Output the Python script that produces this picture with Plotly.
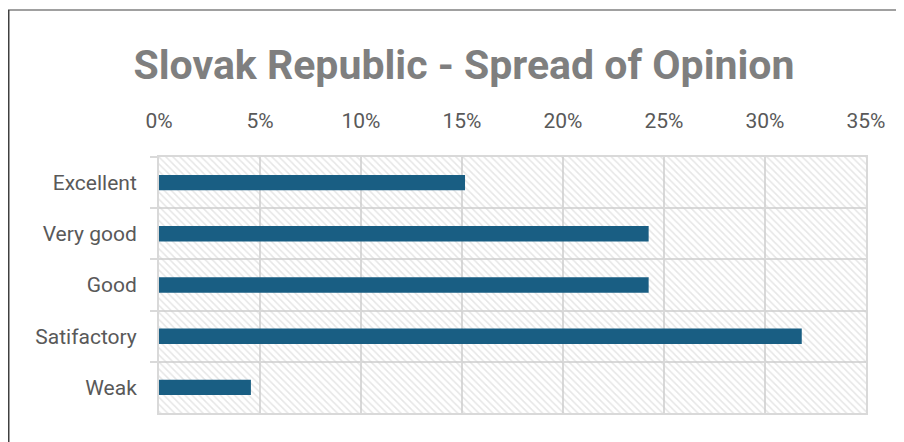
import plotly.graph_objects as go

categories = ["Excellent", "Very good", "Good", "Satifactory", "Weak"]
values = [15.15, 24.24, 24.24, 31.82, 4.55]  # percent
tick_values = [0, 5, 10, 15, 20, 25, 30, 35]
tick_labels = ["0%", "5%", "10%", "15%", "20%", "25%", "30%", "35%"]
title_text = "Slovak Republic - Spread of Opinion"

AXIS_MAX = tick_values[-1]
BAR_COLOR = "#195E83"
GRID = "#d9d9d9"
TEXT = "#595959"

# page has an 8px body margin, so figure coords = screen coords - 8
L, T, PW, PH = 151, 149, 707, 256
W, H = 904, 442

fig = go.Figure()

# hatched background band for each category row
fig.add_trace(go.Bar(
    y=categories, x=[AXIS_MAX] * len(categories), orientation="h", width=1.0,
    marker=dict(color="rgba(0,0,0,0)", line=dict(width=0),
                pattern=dict(shape="\\", fgcolor="#cdcdcd", bgcolor="rgba(0,0,0,0)",
                             size=5, solidity=0.3, fillmode="overlay")),
    hoverinfo="skip", showlegend=False,
))

fig.add_trace(go.Bar(
    y=categories, x=values, orientation="h", width=0.3,
    marker=dict(color=BAR_COLOR, line=dict(width=0)),
    showlegend=False,
))

def px_x(p):
    return (p - L) / PW

def px_y(p):
    return (T + PH - p) / PH

fig.update_layout(
    width=W, height=H,
    margin=dict(l=L, r=W - L - PW, t=T, b=H - T - PH, autoexpand=False),
    paper_bgcolor="white", plot_bgcolor="white",
    barmode="overlay",
    title=dict(text=title_text, x=456 / W, xanchor="center", y=1 - 57 / H, yanchor="middle",
               font=dict(family="Roboto", size=41, color="#7f7f7f", weight="bold")),
    font=dict(family="Roboto", color=TEXT),
    shapes=[
        dict(type="line", xref="paper", yref="paper",
             x0=px_x(0), x1=px_x(W + 10), y0=px_y(2), y1=px_y(2),
             line=dict(color="#808080", width=1.5)),
        dict(type="line", xref="paper", yref="paper",
             x0=px_x(0.75), x1=px_x(0.75), y0=px_y(2), y1=px_y(H + 20),
             line=dict(color="#404040", width=1.5)),
    ],
)

fig.update_xaxes(
    range=[0, AXIS_MAX], side="top", tickvals=tick_values, ticktext=tick_labels,
    showgrid=True, gridcolor=GRID, gridwidth=2, zeroline=False,
    showline=True, linecolor=GRID, linewidth=2, mirror=True,
    ticks="", tickfont=dict(size=21, color=TEXT), ticklabelstandoff=19,
)
fig.update_yaxes(
    autorange="reversed", tickson="boundaries", ticks="outside", ticklen=7,
    tickcolor=GRID, tickwidth=2,
    showgrid=True, gridcolor=GRID, gridwidth=2,
    showline=True, linecolor=GRID, linewidth=2, mirror=True,
    tickfont=dict(size=21, color=TEXT), ticklabelstandoff=16,
)

fig.write_html("out.html")
